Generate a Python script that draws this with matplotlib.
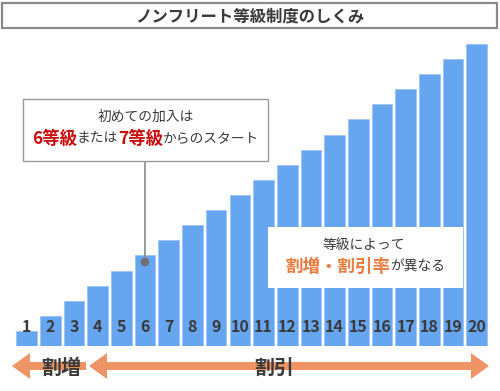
import matplotlib
matplotlib.use("Agg")
import matplotlib.pyplot as plt
from matplotlib.patches import Rectangle, Polygon, Circle

plt.rcParams['font.family'] = ['Noto Sans CJK JP', 'DejaVu Sans']

# データ
grades = list(range(1, 21))
heights = [1, 2, 3, 4, 5, 6, 7, 8, 9, 10, 11, 12, 13, 14, 15, 16, 17, 18, 19, 20]
title = 'ノンフリート等級制度のしくみ'
box1_line1 = '初めての加入は'
box1_line2 = [('6等級', 'red'), ('または', 'n'), ('7等級', 'red'), ('からのスタート', 'n')]
box2_line1 = '等級によって'
box2_line2 = [('割増・割引率', 'org'), ('が異なる', 'n')]
arrow_labels = ['割増', '割引']

BAR = '#66a5ef'
ORANGE = '#ef9565'
DARK = '#3a3a3a'
RED = '#cc0a0a'
ORG_TXT = '#ee7b3e'

W, H = 500, 391
fig = plt.figure(figsize=(W / 100, H / 100), dpi=100)

# 棒グラフ (1 = 15px)
ax = fig.add_axes([14.85 / W, 1 - 346 / H, 473.7 / W, 302 / H])
ax.bar(grades, heights, width=0.87, color=BAR, edgecolor='#9ec5f6', linewidth=0.6)
ax.set_xlim(0.5, 20.5)
ax.set_ylim(0, 20)
ax.axis('off')
for g in grades:
    ax.text(g, 1.26, str(g), ha='center', va='center', fontsize=11.5,
            fontweight='bold', color=DARK)

# 上にのせる図形はピクセル座標で
ov = fig.add_axes([0, 0, 1, 1])
ov.set_xlim(0, W)
ov.set_ylim(H, 0)
ov.axis('off')
ov.patch.set_alpha(0)

# タイトル
ov.add_patch(Rectangle((2, 3), 495, 25, facecolor='white', edgecolor='#8a8a8a', lw=1.6))
ov.text(250, 16, title, ha='center', va='center', fontsize=11.8, fontweight='bold', color=DARK)

renderer = fig.canvas.get_renderer()


def colored_line(parts, cx, cy, styles):
    # 色違いの文字列を横に並べて中央揃え
    texts = []
    for s, key in parts:
        size, weight, color = styles[key]
        texts.append(ov.text(0, cy, s, ha='left', va='center', fontsize=size,
                             fontweight=weight, color=color))
    widths = [t.get_window_extent(renderer).width for t in texts]
    x = cx - sum(widths) / 2
    for t, w in zip(texts, widths):
        t.set_x(x)
        x += w


# 吹き出し1
ov.plot([145, 145], [161, 262], color='#8a8a8a', lw=1.2, zorder=3)
ov.add_patch(Circle((145, 262), 3.6, color='#707070', zorder=4))
ov.add_patch(Rectangle((23, 99), 245, 62, facecolor='white', edgecolor='#9a9a9a', lw=1, zorder=3))
ov.text(145.5, 117, box1_line1, ha='center', va='center', fontsize=9.9, color=DARK, zorder=5)
colored_line(box1_line2, 145.5, 138.5,
             {'red': (12.5, 'bold', RED), 'n': (9.9, 'normal', DARK)})

# 吹き出し2
ov.add_patch(Rectangle((268, 227), 195, 61, facecolor='white', edgecolor='none', zorder=3))
ov.text(364, 245, box2_line1, ha='center', va='center', fontsize=9.9, color=DARK, zorder=5)
colored_line(box2_line2, 365, 267,
             {'org': (12.6, 'bold', ORG_TXT), 'n': (9.9, 'normal', DARK)})


def arrow_shape(x0, x1, y, shaft=8, head=26, head_len=18, left=True, right=True):
    pts = []
    h, s = head / 2, shaft / 2
    if left:
        pts += [(x0, y), (x0 + head_len, y - h), (x0 + head_len, y - s)]
    else:
        pts += [(x0, y - s)]
    if right:
        pts += [(x1 - head_len, y - s), (x1 - head_len, y - h), (x1, y),
                (x1 - head_len, y + h), (x1 - head_len, y + s)]
    else:
        pts += [(x1, y - s), (x1, y + s)]
    if left:
        pts += [(x0 + head_len, y + s), (x0 + head_len, y + h)]
    else:
        pts += [(x0, y + s)]
    return Polygon(pts, closed=True, facecolor=ORANGE, edgecolor='none')


ov.add_patch(arrow_shape(12, 86, 366, right=False))
ov.add_patch(arrow_shape(89, 489, 366))
ov.text(61, 367, arrow_labels[0], ha='center', va='center', fontsize=14.4,
        fontweight='bold', color=DARK)
ov.text(274, 367, arrow_labels[1], ha='center', va='center', fontsize=14.4,
        fontweight='bold', color=DARK)

fig.savefig('out.png', dpi=100)
